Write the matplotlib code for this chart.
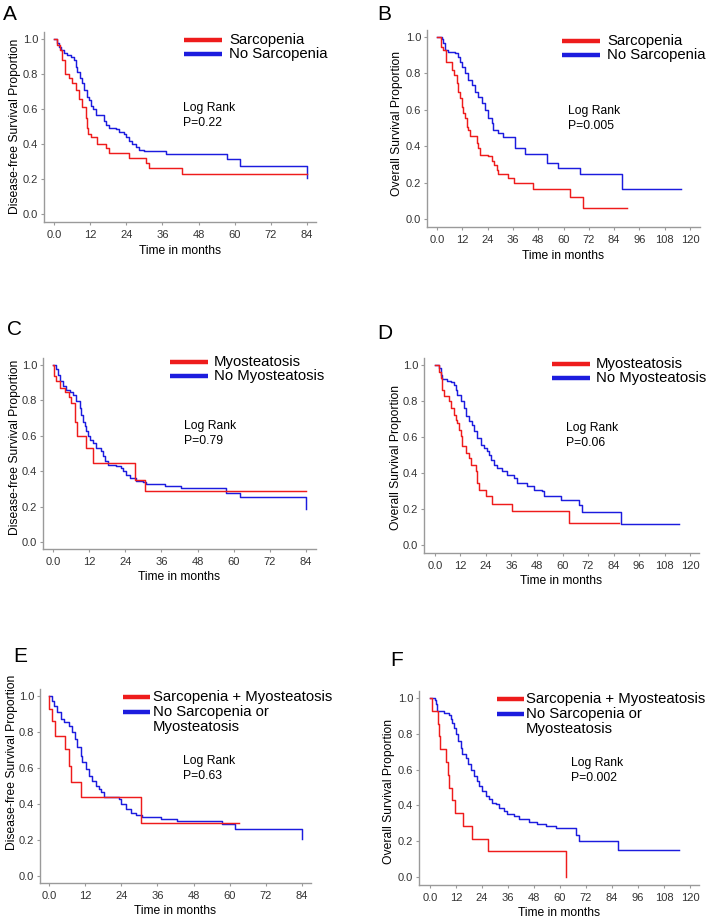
import matplotlib
matplotlib.use("Agg")
import matplotlib.pyplot as plt
from matplotlib.lines import Line2D

plt.rcParams["font.family"] = ["Liberation Sans", "DejaVu Sans"]

# ---- data (months, survival proportion after each step) ----
# A: disease-free survival, sarcopenia
a_red_t = [1.0, 2.0, 2.8, 3.5, 5.0, 6.1, 7.2, 8.3, 9.4, 10.5, 10.8, 11.4, 12.2, 14.4,
           17.1, 18.3, 24.9, 30.4, 31.5, 42.6]
a_red_s = [0.965, 0.94, 0.88, 0.80, 0.78, 0.75, 0.71, 0.66, 0.61, 0.55, 0.49, 0.46, 0.44,
           0.40, 0.375, 0.35, 0.32, 0.29, 0.265, 0.227]
a_red_end = 84.0
a_blue_t = [1.1, 1.7, 2.4, 3.3, 4.4, 5.5, 6.6, 7.2, 7.7, 8.5, 9.2, 10.0, 10.8, 11.6, 12.2,
            13.1, 13.8, 16.6, 17.4, 18.3, 20.5, 21.6, 23.2, 23.8, 24.9, 26.0, 27.1, 28.2,
            29.9, 37.1, 57.3, 61.7, 84.0]
a_blue_s = [0.98, 0.956, 0.937, 0.92, 0.91, 0.90, 0.88, 0.84, 0.81, 0.775, 0.747, 0.71,
            0.67, 0.65, 0.62, 0.60, 0.565, 0.53, 0.51, 0.49, 0.484, 0.47, 0.46, 0.44, 0.42,
            0.40, 0.385, 0.366, 0.362, 0.343, 0.312, 0.274, 0.205]
a_blue_end = 84.0

# B: overall survival, sarcopenia
b_red_t = [1.9, 3.0, 4.1, 7.0, 8.2, 9.3, 10.1, 10.9, 11.7, 12.5, 13.3, 14.1, 14.9, 15.7,
           18.8, 19.6, 20.4, 24.3, 25.9, 27.2, 28.3, 29.1, 33.8, 36.7, 45.7, 63.1, 69.4]
b_red_s = [0.947, 0.929, 0.86, 0.82, 0.79, 0.745, 0.70, 0.663, 0.617, 0.58, 0.553, 0.507,
           0.49, 0.456, 0.416, 0.388, 0.352, 0.346, 0.32, 0.297, 0.27, 0.245, 0.223, 0.20,
           0.163, 0.123, 0.059]
b_red_end = 90.0
b_blue_t = [2.2, 3.0, 3.8, 5.4, 8.5, 10.1, 10.9, 11.7, 13.3, 14.9, 16.4, 18.0, 19.6, 21.2,
            22.8, 24.3, 25.9, 26.7, 29.1, 31.5, 37.0, 41.7, 52.0, 57.5, 67.8, 87.6]
b_blue_s = [0.99, 0.965, 0.93, 0.92, 0.91, 0.89, 0.865, 0.837, 0.80, 0.764, 0.736, 0.70,
            0.672, 0.636, 0.60, 0.553, 0.525, 0.49, 0.47, 0.452, 0.39, 0.355, 0.31, 0.28,
            0.247, 0.163]
b_blue_end = 115.7

# C: disease-free survival, myosteatosis
c_red_t = [0.2, 1.1, 2.2, 4.0, 5.2, 6.1, 7.2, 8.1, 10.8, 13.3, 27.3, 30.4]
c_red_s = [0.94, 0.91, 0.87, 0.85, 0.82, 0.785, 0.68, 0.60, 0.53, 0.446, 0.35, 0.29]
c_red_end = 84.1
c_blue_t = [1.1, 1.7, 2.4, 3.3, 4.4, 5.5, 6.6, 7.7, 8.9, 9.4, 10.0, 10.5, 11.1, 11.6, 12.2,
            13.3, 14.4, 16.0, 16.6, 17.2, 18.3, 21.0, 22.7, 23.2, 24.3, 25.5, 27.7, 29.9,
            31.0, 37.1, 42.6, 57.5, 62.0, 84.1]
c_blue_s = [0.98, 0.945, 0.908, 0.88, 0.86, 0.85, 0.83, 0.795, 0.757, 0.72, 0.68, 0.653,
            0.625, 0.60, 0.578, 0.56, 0.53, 0.512, 0.484, 0.456, 0.437, 0.427, 0.418, 0.40,
            0.38, 0.36, 0.347, 0.339, 0.328, 0.315, 0.305, 0.277, 0.252, 0.188]
c_blue_end = 84.1

# D: overall survival, myosteatosis
d_red_t = [1.9, 2.7, 3.5, 4.2, 6.6, 7.4, 8.9, 9.7, 10.5, 11.3, 12.1, 12.9, 14.4, 16.0,
           16.8, 19.1, 19.9, 20.7, 23.8, 27.0, 36.4, 63.1]
d_red_s = [0.96, 0.93, 0.863, 0.826, 0.798, 0.761, 0.724, 0.696, 0.678, 0.64, 0.604, 0.548,
           0.511, 0.483, 0.446, 0.409, 0.344, 0.307, 0.27, 0.23, 0.187, 0.122]
d_red_end = 86.6
d_blue_t = [1.9, 2.7, 3.5, 5.8, 7.4, 8.9, 9.7, 10.5, 12.1, 13.6, 14.4, 16.0, 17.6, 18.4,
            19.9, 21.5, 23.1, 24.6, 25.4, 26.2, 27.8, 29.3, 31.7, 34.0, 37.2, 38.7, 43.5,
            46.6, 50.5, 51.3, 59.1, 67.8, 69.3, 87.4]
d_blue_s = [0.983, 0.946, 0.924, 0.913, 0.906, 0.89, 0.863, 0.835, 0.798, 0.761, 0.715,
            0.687, 0.669, 0.631, 0.594, 0.557, 0.539, 0.52, 0.502, 0.474, 0.446, 0.428,
            0.409, 0.391, 0.372, 0.344, 0.326, 0.307, 0.298, 0.274, 0.25, 0.22, 0.183, 0.118]
d_blue_end = 114.8

# E: disease-free survival, combined
e_red_t = [0.1, 1.1, 2.0, 5.3, 6.6, 7.2, 10.5, 30.4]
e_red_s = [0.93, 0.86, 0.78, 0.705, 0.61, 0.52, 0.437, 0.293]
e_red_end = 63.1
e_blue_t = [1.1, 1.7, 2.8, 3.9, 5.0, 6.6, 7.7, 8.6, 9.4, 10.5, 11.1, 12.2, 13.3, 14.4, 15.5,
            16.6, 17.2, 18.3, 23.2, 23.8, 25.5, 27.1, 28.8, 31.0, 37.1, 42.6, 57.3, 61.8, 84.1]
e_blue_s = [0.974, 0.946, 0.909, 0.872, 0.854, 0.835, 0.798, 0.761, 0.715, 0.669, 0.631,
            0.594, 0.557, 0.53, 0.502, 0.483, 0.465, 0.437, 0.428, 0.40, 0.372, 0.35, 0.339,
            0.326, 0.317, 0.304, 0.289, 0.261, 0.206]
e_blue_end = 84.1

# F: overall survival, combined
f_red_t = [1.1, 3.7, 4.2, 4.6, 7.2, 8.3, 8.8, 10.3, 11.5, 15.4, 19.5, 26.9, 62.9]
f_red_s = [0.929, 0.857, 0.786, 0.714, 0.643, 0.571, 0.5, 0.429, 0.357, 0.286, 0.214, 0.143, 0.0]
f_red_end = 62.9
f_blue_t = [2.3, 2.9, 3.4, 6.5, 8.8, 9.5, 10.3, 11.1, 11.8, 13.1, 14.2, 14.9, 16.5, 17.7,
            18.8, 20.3, 21.8, 22.6, 24.2, 25.7, 27.2, 28.8, 30.3, 31.8, 34.2, 35.7, 38.8,
            41.1, 45.7, 49.5, 53.4, 58.0, 67.2, 68.8, 86.9]
f_blue_s = [0.99, 0.965, 0.927, 0.918, 0.905, 0.88, 0.862, 0.834, 0.797, 0.76, 0.722, 0.685,
            0.667, 0.629, 0.60, 0.564, 0.536, 0.508, 0.48, 0.452, 0.434, 0.415, 0.406, 0.387,
            0.369, 0.35, 0.34, 0.322, 0.309, 0.294, 0.285, 0.272, 0.235, 0.20, 0.151]
f_blue_end = 114.9

panel_letters = ["A", "B", "C", "D", "E", "F"]
y_titles = ["Disease-free Survival Proportion", "Overall Survival Proportion"] * 3
legend_labels = [("Sarcopenia", "No Sarcopenia"), ("Sarcopenia", "No Sarcopenia"),
                 ("Myosteatosis", "No Myosteatosis"), ("Myosteatosis", "No Myosteatosis"),
                 ("Sarcopenia + Myosteatosis", "No Sarcopenia or\nMyosteatosis"),
                 ("Sarcopenia + Myosteatosis", "No Sarcopenia or\nMyosteatosis")]
p_values = ["P=0.22", "P=0.005", "P=0.79", "P=0.06", "P=0.63", "P=0.002"]
x_tick_84 = [0, 12, 24, 36, 48, 60, 72, 84]
x_tick_120 = [0, 12, 24, 36, 48, 60, 72, 84, 96, 108, 120]
y_ticks = [0.0, 0.2, 0.4, 0.6, 0.8, 1.0]

curves = [
    (a_red_t, a_red_s, a_red_end, a_blue_t, a_blue_s, a_blue_end),
    (b_red_t, b_red_s, b_red_end, b_blue_t, b_blue_s, b_blue_end),
    (c_red_t, c_red_s, c_red_end, c_blue_t, c_blue_s, c_blue_end),
    (d_red_t, d_red_s, d_red_end, d_blue_t, d_blue_s, d_blue_end),
    (e_red_t, e_red_s, e_red_end, e_blue_t, e_blue_s, e_blue_end),
    (f_red_t, f_red_s, f_red_end, f_blue_t, f_blue_s, f_blue_end),
]

W, H = 709, 919
RED = "#ee1c1c"
BLUE = "#1c1cde"
GREY = "#9a9a9a"


def fx(x):
    return x / W


def fy(y):
    return 1 - y / H


# pixel layout per panel:
# spine left, spine bottom, right end, top end, px of x=0, px of last tick, last tick, px of y=1, px of y=0
layout = [
    (44, 222, 316, 32, 54, 307, 84, 39, 214),
    (427, 227, 700, 30, 437, 690, 120, 37, 219),
    (43, 549, 316, 358, 53, 306, 84, 365, 542),
    (424, 553, 699, 358, 435, 690, 120, 365, 545),
    (40, 883, 311, 689, 49, 302, 84, 696, 876),
    (419, 885, 699, 691, 430, 690, 120, 698, 877),
]
letter_pos = [(3, 15), (377, 15), (7, 330), (377, 333), (13, 656), (390, 660)]
ylabel_pos = [(15, 126), (397, 124), (15, 447), (396, 458), (12, 762), (389, 792)]
# legend: line x0, x1, text x, first row y, row step
legend_pos = [(184, 222, 229, 40, 14), (562, 600, 607, 41, 14), (170, 208, 214, 362, 14),
              (552, 590, 596, 364, 14), (123, 150, 153, 697, 15), (497, 524, 526, 699, 15)]
logrank_pos = [(183, 108), (568, 111), (184, 426), (566, 428), (183, 761), (571, 763)]

fig = plt.figure(figsize=(W / 100, H / 100), dpi=100)

for i, (lay, cur) in enumerate(zip(layout, curves)):
    sl, sb, re, te, x0, xl, xlast, y1, y0 = lay
    ax = fig.add_axes([fx(sl), fy(sb), (re - sl) / W, (sb - te) / H])
    sx = (xl - x0) / xlast
    ax.set_xlim((sl - x0) / sx, (re - x0) / sx)
    sy = y0 - y1
    ax.set_ylim((y0 - sb) / sy, (y0 - te) / sy)

    rt, rs, rend, bt, bs, bend = cur
    for t, s, end, col in [(bt, bs, bend, BLUE), (rt, rs, rend, RED)]:
        tt = [0] + list(t) + [end]
        ss = [1.0] + list(s) + [s[-1]]
        ax.step(tt, ss, where="post", color=col, lw=1.05)

    ticks = x_tick_120 if xlast == 120 else x_tick_84
    ax.set_xticks(ticks)
    ax.set_xticklabels(["0.0"] + [str(v) for v in ticks[1:]])
    ax.set_yticks(y_ticks)
    ax.set_yticklabels([f"{v:.1f}" for v in y_ticks])
    ax.tick_params(length=2.5, width=0.8, color=GREY, labelsize=8,
                   labelcolor="#333333", pad=1.6)
    ax.tick_params(axis="x", pad=3.5)
    for side in ["top", "right"]:
        ax.spines[side].set_visible(False)
    for side in ["left", "bottom"]:
        ax.spines[side].set_color(GREY)
        ax.spines[side].set_linewidth(1.0)
    ax.patch.set_alpha(0)
    ax.set_xlabel("Time in months", fontsize=8.7, labelpad=3)

    # panel letter and y label
    lx, ly = letter_pos[i]
    fig.text(fx(lx), fy(ly), panel_letters[i], fontsize=15, ha="left", va="center")
    yx, yy = ylabel_pos[i]
    fig.text(fx(yx), fy(yy), y_titles[i], fontsize=8.7, rotation=90,
             ha="center", va="center")

    # legend drawn by hand, one text per line
    l0, l1, tx, ry, step = legend_pos[i]
    lab_r, lab_b = legend_labels[i]
    fig.add_artist(Line2D([fx(l0), fx(l1)], [fy(ry), fy(ry)], color=RED, lw=3.2,
                          solid_capstyle="butt"))
    fig.add_artist(Line2D([fx(l0), fx(l1)], [fy(ry + step), fy(ry + step)], color=BLUE,
                          lw=3.2, solid_capstyle="butt"))
    rows = [lab_r] + lab_b.split("\n")
    for k, row in enumerate(rows):
        fig.text(fx(tx), fy(ry + k * step), row, fontsize=10.7, ha="left", va="center")

    gx, gy = logrank_pos[i]
    fig.text(fx(gx), fy(gy), "Log Rank", fontsize=8.7, ha="left", va="center")
    fig.text(fx(gx), fy(gy + 15), p_values[i], fontsize=8.7, ha="left", va="center")

fig.savefig("out.png", dpi=100)
